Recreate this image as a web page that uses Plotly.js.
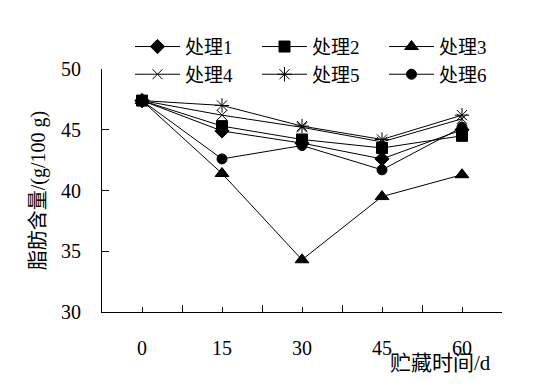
<!DOCTYPE html>
<html>
<head>
<meta charset="utf-8">
<script src="https://cdn.plot.ly/plotly-3.0.1.min.js"></script>
<style>html,body{margin:0;padding:0;background:#fff;}#chart{width:540px;height:391px;}</style>
</head>
<body>
<div id="chart"></div>
<script>
var days = ["0", "15", "30", "45", "60"];
var seriesNames = ["处理1", "处理2", "处理3", "处理4", "处理5", "处理6"];
var t1 = [47.4, 44.9, 43.9, 42.6, 45.0];
var t2 = [47.4, 45.3, 44.2, 43.5, 44.5];
var t3 = [47.4, 41.4, 34.3, 39.5, 41.3];
var t4 = [47.4, 46.2, 45.2, 44.0, 45.9];
var t5 = [47.4, 47.0, 45.3, 44.2, 46.2];
var t6 = [47.4, 42.6, 43.7, 41.7, 45.2];
var yTicks = [30, 35, 40, 45, 50];

var seriesData = [t1, t2, t3, t4, t5, t6];
var symbols = ["diamond", "square", "triangle-up", "x-thin-open", "asterisk-open", "circle"];
var sizes = [11, 11, 12, 10, 12, 10];
var idx = days.map(function (d, i) { return i; });

var traces = seriesData.map(function (vals, k) {
  return {
    x: idx, y: vals, name: seriesNames[k], type: "scatter", mode: "lines+markers",
    line: {color: "#000", width: 1},
    marker: {symbol: symbols[k], size: sizes[k], color: "#000", line: {color: "#000", width: 1}}
  };
});

var fam = "Liberation Serif, Noto Sans CJK SC, serif";
var layout = {
  width: 540, height: 391,
  margin: {l: 102, r: 38, t: 69, b: 79, autoexpand: false},
  paper_bgcolor: "#fff", plot_bgcolor: "#fff",
  font: {family: fam, color: "#000", size: 20},
  showlegend: true,
  legend: {
    orientation: "h", x: 0.07, y: 1.17, xanchor: "left", yanchor: "top",
    entrywidth: 67, entrywidthmode: "pixels", itemwidth: 45,
    font: {family: fam, size: 19, color: "#000"}, bgcolor: "rgba(0,0,0,0)", traceorder: "normal"
  },
  xaxis: {
    range: [-0.5, 4.5], tickmode: "array", tickvals: idx, ticktext: days,
    ticks: "inside", ticklen: 5, tickcolor: "#000", tickwidth: 1,
    showline: true, linecolor: "#000", linewidth: 1, showgrid: false, zeroline: false,
    ticklabelstandoff: 18, tickfont: {size: 20, family: fam},
    minor: {tickmode: "array", tickvals: [0.5, 1.5, 2.5, 3.5, 4.5], ticks: "inside", ticklen: 7, tickcolor: "#000", tickwidth: 1, showgrid: false}
  },
  yaxis: {
    range: [30, 50], tickmode: "array", tickvals: yTicks,
    ticks: "inside", ticklen: 7, tickcolor: "#000", tickwidth: 1,
    showline: true, linecolor: "#000", linewidth: 1, showgrid: false, zeroline: false,
    ticklabelstandoff: 16, tickfont: {size: 20, family: fam},
    title: {text: "脂肪含量/(g/100 g)", font: {size: 20, family: fam}, standoff: 10}
  },
  annotations: [{
    text: "贮藏时间/d", xref: "paper", yref: "paper", x: 0.845, y: -0.21,
    xanchor: "center", yanchor: "middle", showarrow: false,
    font: {size: 21, family: fam, color: "#000"}
  }]
};

Plotly.newPlot("chart", traces, layout, {displayModeBar: false, staticPlot: true});
</script>
</body>
</html>
